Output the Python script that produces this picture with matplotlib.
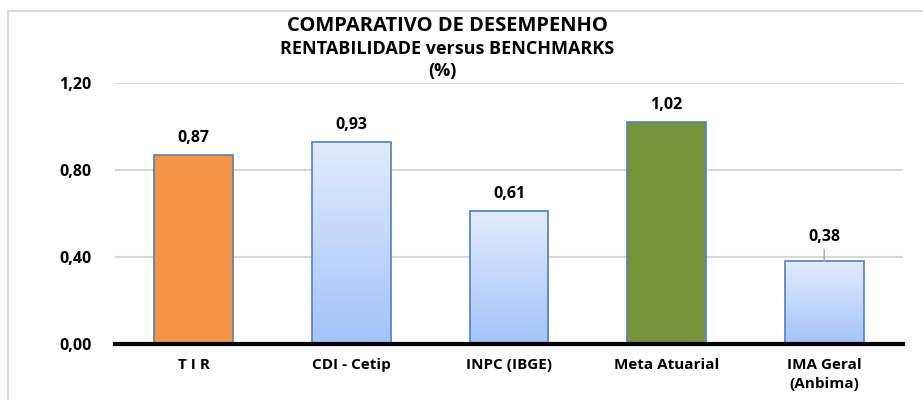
import matplotlib
matplotlib.use('Agg')
import matplotlib.pyplot as plt
from matplotlib.patches import Rectangle
from matplotlib.colors import LinearSegmentedColormap
import numpy as np

categories = ['T I R', 'CDI - Cetip', 'INPC (IBGE)', 'Meta Atuarial', 'IMA Geral\n(Anbima)']
values = [0.87, 0.93, 0.61, 1.02, 0.38]
value_labels = ['0,87', '0,93', '0,61', '1,02', '0,38']
yticks = [0.0, 0.4, 0.8, 1.2]
ytick_labels = ['0,00', '0,40', '0,80', '1,20']

solid_colors = {0: '#F79646', 3: '#77933C'}
edge = '#4F81BD'
grad = LinearSegmentedColormap.from_list('g', ['#A3C3FA', '#E2EBFC'])

plt.rcParams['font.family'] = ['Open Sans', 'DejaVu Sans']

fig = plt.figure(figsize=(9.23, 4.0), dpi=100)
ax = fig.add_axes([115/923, 1-344/400, (903-115)/923, (344-83)/400])

x = np.arange(len(categories))
bars = ax.bar(x, values, width=0.5, edgecolor=edge, linewidth=1.2, zorder=3)
for i, b in enumerate(bars):
    if i in solid_colors:
        b.set_facecolor(solid_colors[i])
    else:
        # light-blue vertical gradient clipped to the bar
        b.set_facecolor('none')
        x0 = b.get_x()
        im = ax.imshow(np.linspace(0, 1, 100).reshape(-1, 1), cmap=grad, origin='lower',
                       extent=[x0, x0 + b.get_width(), 0, b.get_height()],
                       aspect='auto', zorder=2)
        im.set_clip_path(b)

for i, (v, lab) in enumerate(zip(values, value_labels)):
    if i == 4:
        ax.annotate(lab, xy=(i, v), xytext=(i, v + 0.11), ha='center', va='center',
                    fontsize=11.5, fontweight='bold',
                    arrowprops=dict(arrowstyle='-', color='#A6A6A6', lw=1, shrinkA=1, shrinkB=0))
    else:
        ax.text(i, v + 0.078, lab, ha='center', va='center', fontsize=11.5, fontweight='bold')

ax.set_xlim(-0.5, len(categories) - 0.5)
ax.set_ylim(0, 1.2)
ax.set_yticks(yticks)
ax.set_yticklabels(ytick_labels, fontsize=11.5, fontweight='bold')
ax.set_xticks(x)
ax.set_xticklabels(categories, fontsize=11, fontweight='bold', linespacing=1.45)
ax.tick_params(axis='both', length=0)
ax.tick_params(axis='y', pad=17)
ax.tick_params(axis='x', pad=10)
ax.yaxis.grid(True, color='#D9D9D9', linewidth=1.5, zorder=0)
ax.set_axisbelow(True)
for s in ['top', 'right', 'left']:
    ax.spines[s].set_visible(False)
ax.spines['bottom'].set_linewidth(3)
ax.spines['bottom'].set_color('black')
ax.spines['bottom'].set_zorder(5)

fig.text(447/923, 1-26/400, 'COMPARATIVO DE DESEMPENHO', ha='center', va='center',
         fontsize=14.5, fontweight='bold')
fig.text(447/923, 1-49/400, 'RENTABILIDADE versus BENCHMARKS', ha='center', va='center',
         fontsize=13, fontweight='bold')
fig.text(442/923, 1-71/400, '(%)', ha='center', va='center',
         fontsize=13, fontweight='bold')

fig.patches.append(Rectangle((8/923, -0.1), 1.1, 1 - 11/400 + 0.1, transform=fig.transFigure,
                             fill=False, edgecolor='#D9D9D9', linewidth=1.5))

fig.savefig('out.png', dpi=100)
